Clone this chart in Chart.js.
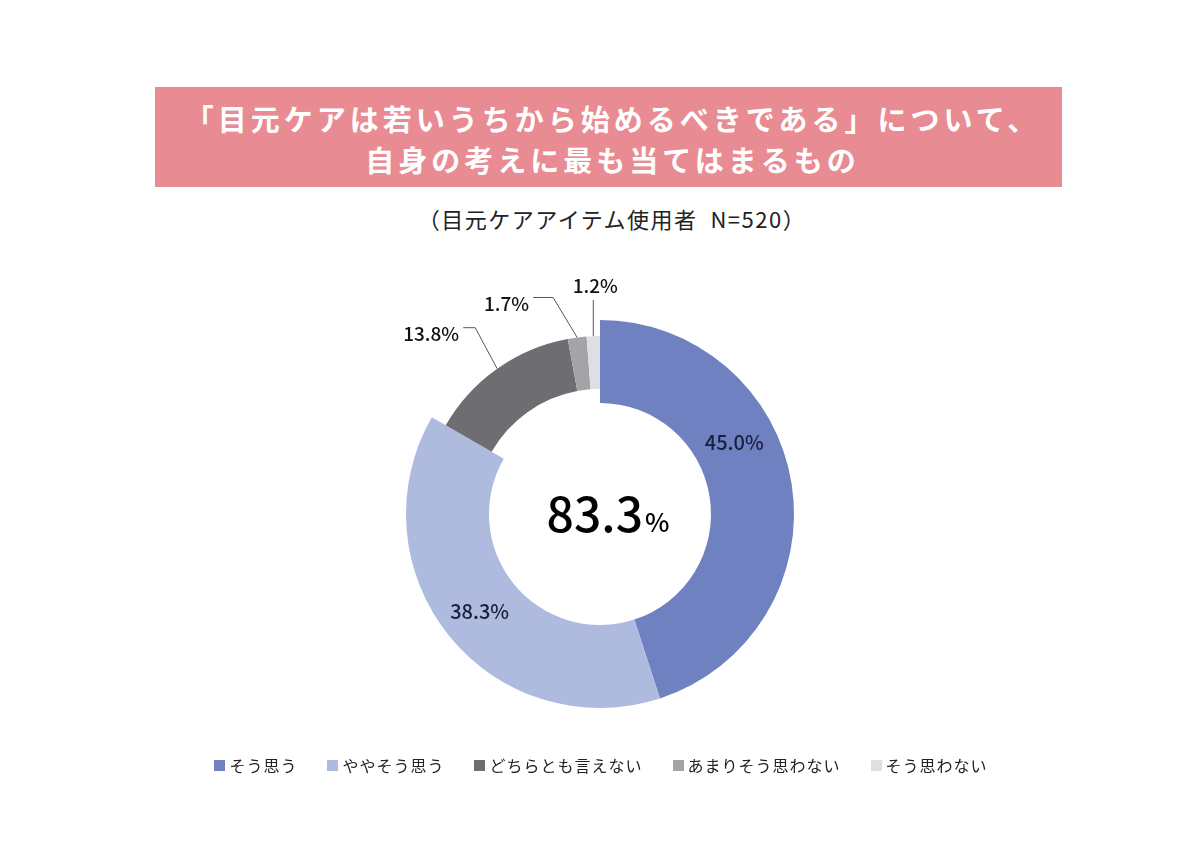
<!DOCTYPE html>
<html lang="ja">
<head>
<meta charset="utf-8">
<script src="https://cdn.jsdelivr.net/npm/chart.js@4.4.1/dist/chart.umd.min.js"></script>
<style>
  html,body{margin:0;padding:0;background:#fff;}
  body{width:1200px;height:856px;position:relative;overflow:hidden;font-family:"Noto Sans CJK JP","Noto Sans",sans-serif;}
  #banner{position:absolute;left:155px;top:87px;width:907px;height:100px;background:#e98b92;color:#fff;
    font-weight:700;font-size:29px;line-height:41px;text-align:center;letter-spacing:4px;box-sizing:border-box;padding-top:11px;padding-left:8px;}
  #sub{position:absolute;left:0;width:1200px;top:203px;text-align:center;font-size:22px;line-height:30px;color:#222;padding-left:24px;box-sizing:border-box;letter-spacing:1.5px;}
  #wrap{position:absolute;left:0;top:0;width:1200px;height:856px;}
  #legend{position:absolute;left:0;width:1200px;top:753px;display:flex;justify-content:center;gap:30px;font-size:16px;line-height:24px;color:#222;letter-spacing:1px;padding-left:2px;box-sizing:border-box;}
  #legend .it{display:flex;align-items:center;}
  #legend .sw{width:11px;height:11px;margin-right:4px;}
</style>
</head>
<body>
<div id="banner"></div>
<div id="sub"></div>
<div id="wrap"><canvas id="c" width="1200" height="856"></canvas></div>
<div id="legend"></div>
<script>
// ---- data ----
const titleLines = ["「目元ケアは若いうちから始めるべきである」について、", "自身の考えに最も当てはまるもの"];
const subtitle = "（目元ケアアイテム使用者  N=520）";
const categories = ["そう思う", "ややそう思う", "どちらとも言えない", "あまりそう思わない", "そう思わない"];
const values = [45.0, 38.3, 13.8, 1.7, 1.2];
const labelsText = ["45.0%", "38.3%", "13.8%", "1.7%", "1.2%"];
const centerValue = "83.3";
const centerUnit = "%";

// ---- styles ----
const colors = ["#6f81c0", "#aebbdf", "#6e6d72", "#a4a3a8", "#dfdee4"];
const emphasized = [true, true, false, false, false];

document.getElementById('banner').innerHTML = titleLines.join('<br>');
document.getElementById('sub').style.whiteSpace = 'pre';
document.getElementById('sub').textContent = subtitle;
const lg = document.getElementById('legend');
categories.forEach((c, i) => {
  const d = document.createElement('div'); d.className = 'it';
  const s = document.createElement('span'); s.className = 'sw'; s.style.background = colors[i];
  const t = document.createElement('span'); t.textContent = c;
  d.appendChild(s); d.appendChild(t); lg.appendChild(d);
});

const FONT = '"Noto Sans CJK JP","Noto Sans",sans-serif';

const shrinkPlugin = {
  id: 'shrink',
  beforeDatasetsDraw(chart) {
    const meta = chart.getDatasetMeta(0);
    const ctrl = meta.controller;
    meta.data.forEach((el, i) => {
      if (!emphasized[i]) {
        el.outerRadius = ctrl.outerRadius - 16;
        el.innerRadius = ctrl.innerRadius + 14;
      } else {
        el.outerRadius = ctrl.outerRadius;
        el.innerRadius = ctrl.innerRadius;
      }
    });
  }
};

// label placement style
const labelStyle = [
  {type: 'in', shift: -19, r: 152, color: '#1b1f3b'},
  {type: 'in', shift: 0, r: 155, color: '#1b1f3b'},
  {type: 'out', elbow: [-22, -41], hor: -12, color: '#111'},
  {type: 'out', elbow: [-24, -40], hor: -20, color: '#111'},
  {type: 'up', len: 36, color: '#111'}
];

const labelPlugin = {
  id: 'labelsPlugin',
  afterDraw(chart) {
    const ctx = chart.ctx;
    const meta = chart.getDatasetMeta(0);
    ctx.save();
    meta.data.forEach((el, i) => {
      const st = labelStyle[i];
      const mid = (el.startAngle + el.endAngle) / 2;
      ctx.fillStyle = st.color;
      ctx.font = '500 20px ' + FONT;
      if (st.type === 'in') {
        const a = mid + st.shift * Math.PI / 180;
        const x = el.x + Math.cos(a) * st.r, y = el.y + Math.sin(a) * st.r;
        ctx.textAlign = 'center'; ctx.textBaseline = 'middle';
        ctx.fillText(labelsText[i], x, y);
      } else {
        const ax = el.x + Math.cos(mid) * el.outerRadius;
        const ay = el.y + Math.sin(mid) * el.outerRadius;
        ctx.strokeStyle = '#555'; ctx.lineWidth = 1;
        ctx.beginPath();
        ctx.moveTo(ax, ay);
        if (st.type === 'out') {
          const ex = ax + st.elbow[0], ey = ay + st.elbow[1];
          ctx.lineTo(ex, ey); ctx.lineTo(ex + st.hor, ey); ctx.stroke();
          ctx.font = '500 19px ' + FONT;
          ctx.textAlign = 'right'; ctx.textBaseline = 'middle';
          ctx.fillText(labelsText[i], ex + st.hor - 4, ey + 6);
        } else {
          ctx.lineTo(ax, ay - st.len); ctx.stroke();
          ctx.font = '500 19px ' + FONT;
          ctx.textAlign = 'center'; ctx.textBaseline = 'middle';
          ctx.fillText(labelsText[i], ax + 2, ay - st.len - 14);
        }
      }
    });
    // center text
    const cx = meta.data[0].x + 8, cy = meta.data[0].y;
    ctx.fillStyle = '#000';
    ctx.textBaseline = 'alphabetic';
    ctx.font = '500 48px ' + FONT;
    const w1 = ctx.measureText(centerValue).width;
    ctx.font = '500 26px ' + FONT;
    const w2 = ctx.measureText(centerUnit).width;
    const start = cx - (w1 + w2 + 2) / 2;
    ctx.textAlign = 'left';
    ctx.font = '500 48px ' + FONT;
    ctx.fillText(centerValue, start, cy + 18);
    ctx.font = '500 26px ' + FONT;
    ctx.fillText(centerUnit, start + w1 + 2, cy + 18);
    ctx.restore();
  }
};

new Chart(document.getElementById('c'), {
  type: 'doughnut',
  data: {
    labels: categories,
    datasets: [{
      data: values,
      backgroundColor: colors,
      borderWidth: 0
    }]
  },
  options: {
    responsive: false,
    animation: false,
    cutout: 111,
    layout: {padding: {left: 406, right: 406, top: 320, bottom: 148}},
    plugins: {legend: {display: false}, tooltip: {enabled: false}, title: {display: false}}
  },
  plugins: [shrinkPlugin, labelPlugin]
});
</script>
</body>
</html>
